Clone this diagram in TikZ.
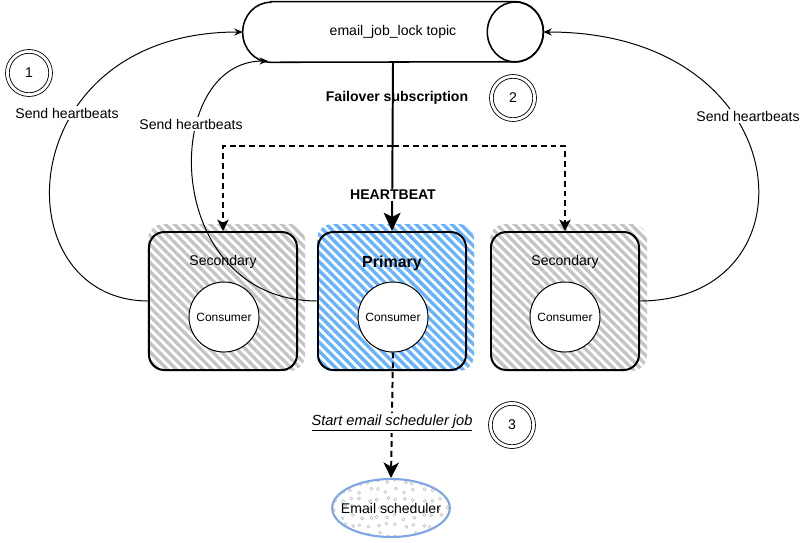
\documentclass[tikz,border=0pt]{standalone}
\usepackage{fontspec}
\setmainfont{Liberation Sans}
\usetikzlibrary{shapes.geometric,arrows.meta,patterns.meta,backgrounds}
\definecolor{hatchgrey}{HTML}{C4C4C4}
\definecolor{hatchblue}{HTML}{66B2FF}
\definecolor{schedblue}{HTML}{7EA6E0}
\tikzset{
  txt/.style={font=\fontsize{10}{12}\selectfont},
  bold/.style={font=\bfseries\fontsize{10}{12}\selectfont},
  box/.style={draw, line width=1.4pt, rounded corners=11pt, minimum width=3.7cm, minimum height=3.45cm},
  consumer/.style={circle, draw, fill=white, line width=0.7pt, minimum size=1.75cm, inner sep=0pt, font=\fontsize{8.5}{10}\selectfont},
  numcirc/.style={circle, draw, double, double distance=2pt, line width=0.6pt, minimum size=1.08cm, inner sep=0pt, txt},
  hbline/.style={-{Stealth[length=6pt,width=5pt]}, line width=0.7pt},
  dashline/.style={line width=1.4pt, dash pattern=on 4.2pt off 2.8pt},
  hatch/.style={pattern={Lines[angle=-45,distance=4.5pt,line width=2.4pt]}, pattern color=#1, rounded corners=11pt},
}
\begin{document}
\begin{tikzpicture}[x=0.025cm, y=-0.025cm]
  \useasboundingbox (0,0) rectangle (800,542);
  \pgfmathsetseed{7}
  \draw
    (393,32) node[minimum width=7.5cm, minimum height=1.5cm, inner sep=0pt, txt] (topic) {}
    (223,301) node[box] (secA) {}
    (392,301) node[box] (pri) {}
    (565,301) node[box] (secB) {}
    (224,317) node[consumer] (consA) {Consumer}
    (393,317) node[consumer] (consP) {Consumer}
    (565,317) node[consumer] (consB) {Consumer}
    (223,262) node[txt] (labA) {Secondary}
    (392,263) node[font=\bfseries\fontsize{11.4}{13}\selectfont] (labP) {Primary}
    (565,262) node[txt] (labB) {Secondary}
    (29,73) node[numcirc] (n1) {1}
    (513,98) node[numcirc] (n2) {2}
    (512,425) node[numcirc] (n3) {3};
  % topic cylinder lying on its side
  \draw[fill=white, line width=1.1pt]
    ([xshift=0.7cm]topic.north west) -- ([xshift=-0.7cm]topic.north east)
    arc[start angle=90, end angle=-90, x radius=0.7cm, y radius=0.75cm]
    -- ([xshift=0.7cm]topic.south west)
    arc[start angle=270, end angle=90, x radius=0.7cm, y radius=0.75cm] -- cycle;
  \draw[line width=1.1pt] ([xshift=-0.7cm]topic.east) ellipse [x radius=0.7cm, y radius=0.75cm];
  \node[txt] (topiclab) at (topic.center) {email\_job\_lock topic};
  \node[ellipse, draw=schedblue, line width=1.5pt, fill=white, minimum width=2.875cm, minimum height=1.45cm,
    inner xsep=-6pt, inner ysep=0pt, txt,
    path picture={
      \foreach \i in {0,...,13} \foreach \j in {0,...,6}
        \draw[gray!55, line width=0.35pt] ([shift={(\i*0.22cm+rnd*0.12cm, \j*0.22cm+rnd*0.12cm)}]path picture bounding box.south west) circle (1.1pt);
    }] (sched) at (391,508) {Email scheduler};
  \begin{scope}[on background layer]
    \fill[hatch=hatchgrey] (secA.south west) rectangle ([shift={(7,-7)}]secA.north east);
    \fill[hatch=hatchblue] (pri.south west) rectangle ([shift={(7,-7)}]pri.north east);
    \fill[hatch=hatchgrey] (secB.south west) rectangle ([shift={(7,-7)}]secB.north east);
  \end{scope}
  \coordinate (split) at (393,146);
  \coordinate (tin) at (268,61);
  \begin{scope}[hbline]
    \draw (secA.west) .. controls (0,300) and (10,32) .. (topic.west);
    \draw (pri.west) .. controls (160,300) and (160,61) .. (tin);
    \draw (secB.east) .. controls (820,300) and (800,32) .. (topic.east);
  \end{scope}
  \node[txt, fill=white, inner sep=1pt] (hbA) at (67,113) {Send heartbeats};
  \node[txt, fill=white, inner sep=1pt] (hbP) at (191,124) {Send heartbeats};
  \node[txt, fill=white, inner sep=1pt] (hbB) at (748,116) {Send heartbeats};
  \draw[line width=1.4pt, -{Stealth[length=13pt,width=12pt,inset=3pt]}] (topic.south) -- (pri.north);
  \node[bold] (fail) at (397,98) {Failover subscription};
  \node[bold, fill=white, inner sep=1pt] (hbeat) at (393,195) {HEARTBEAT};
  \begin{scope}[dashline, -{Stealth[length=8pt,width=8pt,inset=2pt]}]
    \draw (split) -| (secA.north);
    \draw (split) -| (secB.north);
  \end{scope}
  \draw[dashline, -{Stealth[length=11pt,width=11pt,inset=3pt]}] (consP.south) -- (sched.north);
  \node[fill=white, inner sep=1pt, font=\itshape\fontsize{10.4}{12}\selectfont] (start) at (392,423) {\underline{Start email scheduler job}};
\end{tikzpicture}
\end{document}
